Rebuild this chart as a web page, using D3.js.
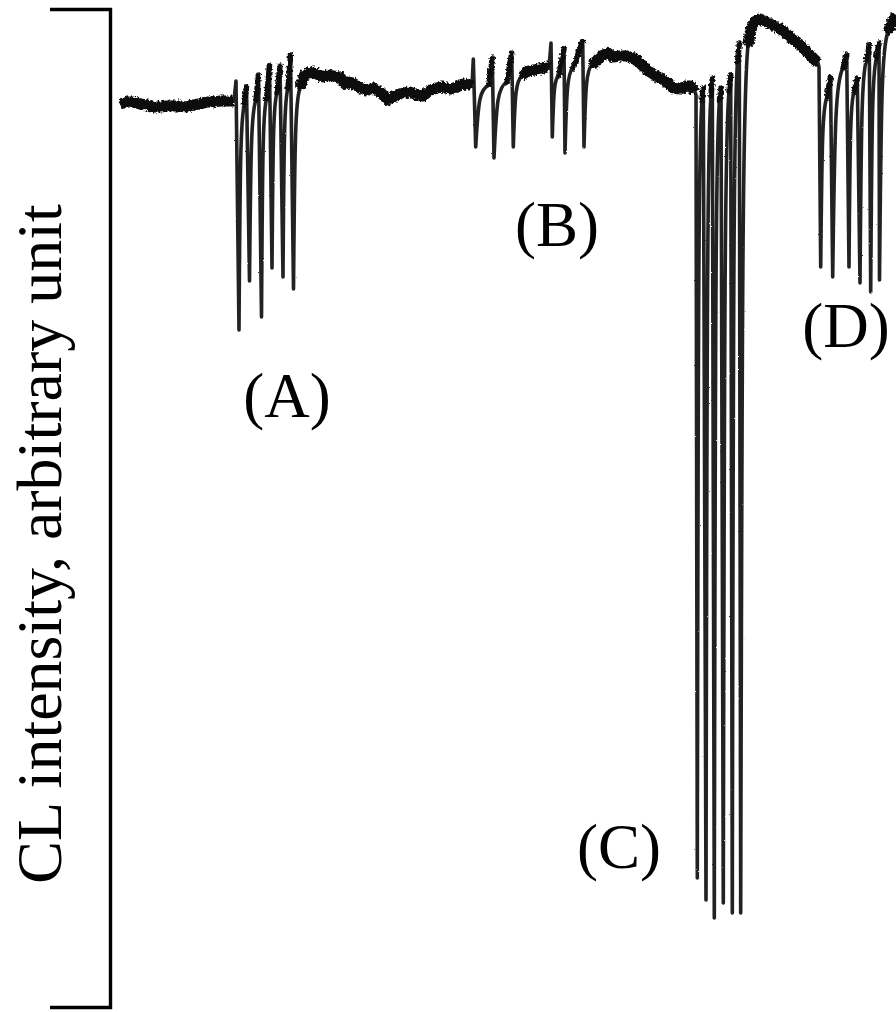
<!DOCTYPE html>
<html>
<head>
<meta charset="utf-8">
<script src="https://cdn.jsdelivr.net/npm/d3@7"></script>
<style>
  html, body { margin: 0; padding: 0; background: #fff; }
  svg { display: block; }
</style>
</head>
<body>
<svg id="chart" width="896" height="1012"></svg>
<script>
// Chemiluminescence trace: time (arbitrary) vs CL intensity (arbitrary unit).
// Slow drift of the signal between injection groups, as [time, intensity].
const drift0 = [[0,903],[7,905],[13,905],[20,903],[27,902],[33,900],[40,900],[47,901],[53,901],[60,901],
  [67,900],[73,902],[80,903],[87,905],[93,905],[100,906],[107,906],[114,906]];
const drift1 = [[184,931],[188,934],[193,935],[197,933],[203,930],[208,932],[213,931],[220,930],[225,923],
  [229,925],[233,924],[240,919],[247,917],[253,919],[260,915],[265,910],[268,907],[271,909],[277,912],
  [283,914],[290,915],[297,912],[303,911],[310,917],[317,919],[323,920],[330,918],[337,920],[343,923],
  [350,922],[352,921]];
const driftB = [[408,936],[414,937],[420,938],[427,940],[429,939]];
const drift2 = [[477,947],[483,952],[488,954],[493,950],[500,951],[507,951],[513,949],[520,944],[527,937],
  [533,933],[540,929],[547,925],[553,919],[560,918],[566,921],[571,921],[575,915]];
const drift3 = [[631,978],[633,983],[636,986],[640,988],[645,986],[650,983],[657,980],[663,976],[670,970],
  [677,965],[683,959],[690,952],[695,947],[698,944]];
const drift4 = [[772,985],[776,992]];

// Quenching pulses: [tTop, vTop, tBottom, vBottom, tRecovered, vRecovered]
const pulsesA = [[116,926,119,677,124.5,903],[126.5,920,129.5,726,136,907],[138.5,932,141.5,690,146.5,908],
  [149.5,942,152,739,157,914],[160,941,163,730,168,919],[170.5,952,173.5,718,180,919]];
const pulsesB1 = [[353.3,948,355.7,860,369,922],[372.3,949,374,849,387,925],[391.7,954,393.3,860,402,931]];
const pulsesB2 = [[431,964,432.3,870,439,932],[444,958,445,854,453,939],[462.7,966,464,860,472,942]];
const pulsesC = [[576,912,577.3,129,582,907],[583.3,919,586,107,591,911],[592.3,929,594.3,89,599.5,907],
  [601,919,603.3,104,609,915],[610.7,932,612.3,94,617.5,945],[619.3,964,620.7,94,628,962]];
const pulsesD = [[699,940,700.7,740,707,910],[710.5,930,712.7,730,723,939],[726.7,952,729,740,734,915],
  [737.3,929,740,724,746.5,947],[749.3,962,750.7,715,756.5,949],[759,964,759.5,727,768,975]];

const groupLabels = ["(A)", "(B)", "(C)", "(D)"];
const labelAt = [[167,590],[437,761],[499,139],[726,660]]; // [time, intensity] of each label
const yTitle = "CL intensity, arbitrary unit";

const segments = [
  {kind: "drift", data: drift0}, {kind: "pulse", data: pulsesA},
  {kind: "drift", data: drift1}, {kind: "pulse", data: pulsesB1},
  {kind: "drift", data: driftB}, {kind: "pulse", data: pulsesB2},
  {kind: "drift", data: drift2}, {kind: "pulse", data: pulsesC},
  {kind: "drift", data: drift3}, {kind: "pulse", data: pulsesD},
  {kind: "drift", data: drift4}
];

const svg = d3.select("#chart");
const x = d3.scaleLinear().domain([0, 776]).range([120, 896]);
const y = d3.scaleLinear().domain([0, 998]).range([1007, 9]);

// Pen-trace roughening: strong for the noisy band, gentle for the fast pen strokes
const defs = svg.append("defs");
function penFilter(id, scale) {
  const f = defs.append("filter").attr("id", id)
    .attr("x", "-5%").attr("y", "-20%").attr("width", "110%").attr("height", "140%");
  f.append("feTurbulence").attr("type", "fractalNoise")
    .attr("baseFrequency", 0.45).attr("numOctaves", 2).attr("seed", 3).attr("result", "n");
  f.append("feDisplacementMap").attr("in", "SourceGraphic").attr("in2", "n")
    .attr("scale", scale).attr("xChannelSelector", "R").attr("yChannelSelector", "G");
}
penFilter("penBand", 5);
penFilter("penThin", 1.6);

// Bracket-style intensity axis (no ticks)
svg.append("g")
  .attr("transform", "translate(110,0)")
  .call(d3.axisLeft(y).tickValues([]).tickSizeOuter(60))
  .call(g => g.select(".domain")
    .attr("stroke", "#000").attr("stroke-width", 3.4).attr("fill", "none"));

svg.append("text")
  .attr("transform", `translate(61,${(y.range()[0] + y.range()[1]) / 2 + 36}) rotate(-90)`)
  .attr("text-anchor", "middle")
  .attr("font-family", "'Liberation Serif', 'Times New Roman', serif")
  .attr("font-size", 64)
  .attr("fill", "#000")
  .text(yTitle);

// Recovery after each pulse: steep rise from the minimum, bending over near the level it returns to
function recovery(p, tb, vb, tk, vk) {
  const x0 = x(tb), y0 = y(vb), x1 = x(tk), y1 = y(vk), dx = x1 - x0, dy = y0 - y1;
  p.bezierCurveTo(x0 + 0.2 * dx, y0 - 0.75 * dy, x1 - 0.7 * dx, y1 + 0.06 * dy, x1, y1);
}

// Full trace as one continuous path
const p = d3.path();
let started = false;
const go = (t, v) => {
  if (!started) { p.moveTo(x(t), y(v)); started = true; }
  else p.lineTo(x(t), y(v));
};
segments.forEach(seg => {
  if (seg.kind === "drift") seg.data.forEach(d => go(d[0], d[1]));
  else seg.data.forEach(([tt, vt, tb, vb, tk, vk]) => {
    go(tt, vt); go(tb, vb);
    recovery(p, tb, vb, tk, vk);
  });
});

svg.append("g").attr("filter", "url(#penThin)")
  .append("path")
  .attr("d", p.toString())
  .attr("fill", "none")
  .attr("stroke", "#222")
  .attr("stroke-width", 3.6)
  .attr("stroke-linejoin", "round");

const bandG = svg.append("g").attr("filter", "url(#penBand)");
const line = d3.line().x(d => x(d[0])).y(d => y(d[1]));

// Short stretches between a recovered level and the next pulse tip, drawn a bit heavier
segments.forEach((seg, i) => {
  if (seg.kind !== "pulse") return;
  const next = segments[i + 1];
  seg.data.forEach((d, j) => {
    const to = j < seg.data.length - 1 ? seg.data[j + 1].slice(0, 2) : next.data[0];
    bandG.append("path")
      .attr("d", line([[d[4], d[5]], to]))
      .attr("fill", "none")
      .attr("stroke", "#111")
      .attr("stroke-width", 5.5)
      .attr("stroke-linecap", "round");
  });
});

// Noisy drift band drawn heavier on top
segments.forEach((seg, i) => {
  if (seg.kind !== "drift") return;
  const prev = segments[i - 1];
  const pts = prev ? [[prev.data[prev.data.length - 1][4], prev.data[prev.data.length - 1][5]], ...seg.data] : seg.data;
  bandG.append("path")
    .attr("d", line(pts))
    .attr("fill", "none")
    .attr("stroke", "#0a0a0a")
    .attr("stroke-width", 11)
    .attr("stroke-linejoin", "round")
    .attr("stroke-linecap", "butt");
});

// Group labels
svg.selectAll("text.grp")
  .data(groupLabels)
  .join("text")
  .attr("class", "grp")
  .attr("x", (d, i) => x(labelAt[i][0]))
  .attr("y", (d, i) => y(labelAt[i][1]))
  .attr("text-anchor", "middle")
  .attr("font-family", "'Liberation Serif', 'Times New Roman', serif")
  .attr("font-size", 63)
  .attr("fill", "#000")
  .text(d => d);
</script>
</body>
</html>
